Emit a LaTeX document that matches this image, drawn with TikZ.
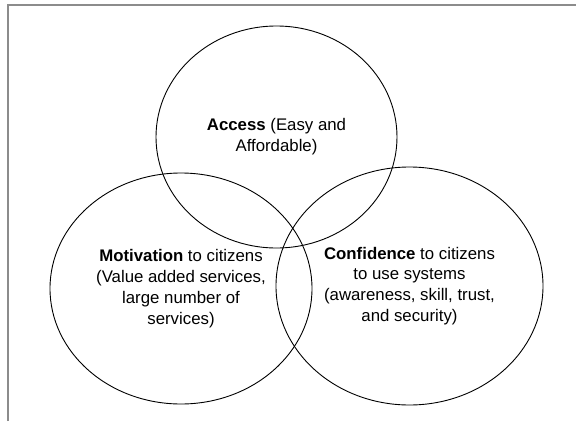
\documentclass[tikz,border=0pt]{standalone}
\usepackage{fontspec}
\setmainfont{Liberation Sans}
\usetikzlibrary{shapes.geometric}

\begin{document}
\begin{tikzpicture}[
    x=1pt, y=-1pt,
    font=\fontsize{16.8}{20.8}\selectfont,
    circ/.style={
        draw, ellipse,
        line width=0.9pt,
        align=center,
        inner sep=0pt
    },
    frame/.style={draw=gray!90, line width=1.3pt}
]
\useasboundingbox (0,0) rectangle (576,421);

% ===================== PAGE FRAME =====================
\coordinate (frameBot) at (8,421);
\coordinate (frameCorner) at (8,5);
\coordinate (frameEnd) at (576,5);
\draw[frame] (frameBot) -- (frameCorner) -- (frameEnd);

% ===================== THREE SETS =====================
\node[circ, minimum width=241pt, minimum height=222pt] (access) at (276.5,137)
{\textbf{Access} (Easy and\\Affordable)};

\node[circ, minimum width=262pt, minimum height=231pt] (motivation) at (181,288.5)
{\textbf{Motivation} to citizens\\(Value added services,\\large number of\\services)};

\node[circ, minimum width=267pt, minimum height=238pt] (confidence) at (409.5,286)
{\textbf{Confidence} to citizens\\to use systems\\(awareness, skill, trust,\\and security)};

\end{tikzpicture}
\end{document}
